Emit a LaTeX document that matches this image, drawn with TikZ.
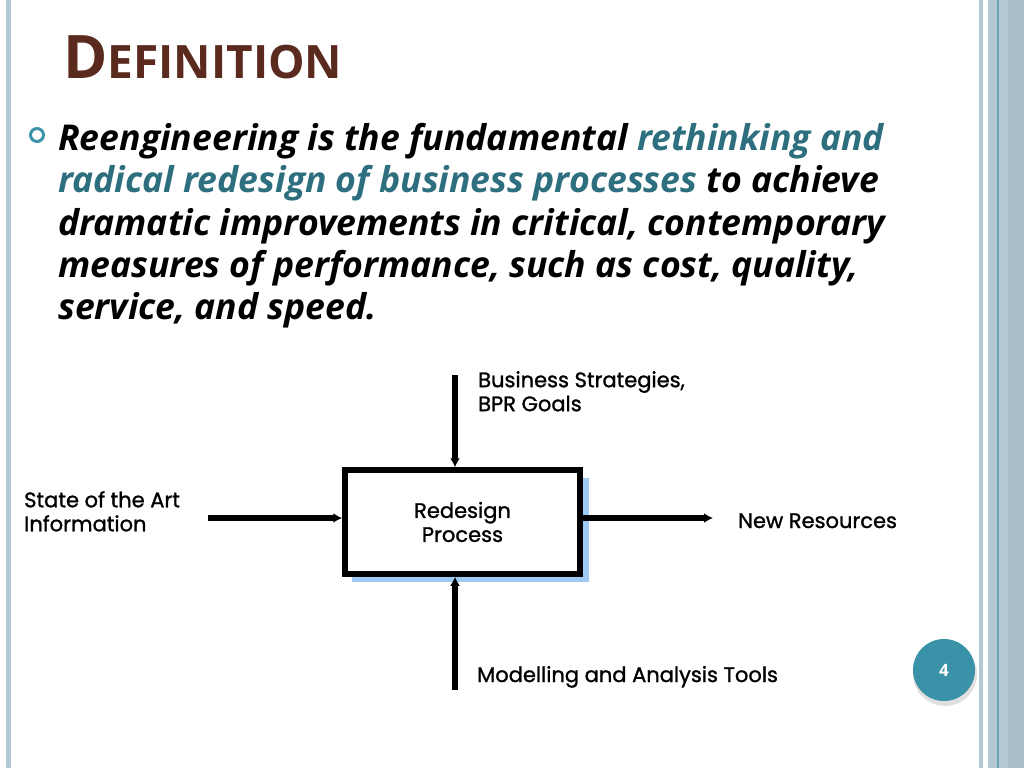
\documentclass[tikz,border=0pt]{standalone}
\usepackage{fontspec}
\setmainfont{Open Sans}
\newfontfamily\diagfont{Poppins}[FakeBold=1.2]
\usetikzlibrary{arrows.meta}
\definecolor{titlebrown}{HTML}{5B2A1E}
\definecolor{tealtext}{HTML}{2E6F7F}
\definecolor{bulletteal}{HTML}{3C93AA}
\definecolor{borderblue}{HTML}{B2C9D3}
\definecolor{borderdark}{HTML}{6AA3B3}
\definecolor{bordershade}{HTML}{A9C0CA}
\definecolor{shadowblue}{HTML}{9DCBF4}
\definecolor{pagecircle}{HTML}{3A92A8}
\begin{document}
\begin{tikzpicture}[x=1pt,y=-1pt,
  bodyline/.style={anchor=base west,inner sep=0pt,font=\fontsize{35.6}{42}\selectfont\bfseries\itshape},
  lbl/.style={inner sep=0pt,font=\diagfont\fontsize{21}{24}\selectfont,align=left},
  flow/.style={line width=5.5pt,-{Latex[length=9pt,width=10pt]}},
  procbox/.style={draw=black,fill=white,line width=5.5pt,minimum width=235pt,minimum height=104pt,inner sep=0pt,align=center,font=\diagfont\fontsize{21}{24}\selectfont},
]
\useasboundingbox (0,0) rectangle (1024,768);
\fill[white] (0,0) rectangle (1024,768);
% side borders
\fill[borderblue] (6,0) rectangle (11,768);
\fill[borderblue] (979,0) rectangle (983,768);
\fill[borderblue] (988,0) rectangle (1024,768);
\fill[bordershade] (1008,0) rectangle (1024,768);
\fill[borderdark] (997,0) rectangle (999,768);
% title
\node[anchor=base west,inner sep=0pt,text=titlebrown,font=\bfseries] (title) at (63,78)
  {\fontsize{60}{60}\selectfont D\fontsize{46}{46}\selectfont EFINITION};
% bullet
\node[circle,draw=bulletteal,line width=3pt,minimum size=13pt,inner sep=0pt] (bul) at (37,135) {};
% body text
\node[bodyline] (l1) at (58,150) {Reengineering is the fundamental \textcolor{tealtext}{rethinking and}};
\node[bodyline] (l2) at (58,192) {\textcolor{tealtext}{radical redesign of business processes} to achieve};
\node[bodyline] (l3) at (58,235) {dramatic improvements in critical, contemporary};
\node[bodyline] (l4) at (58,277) {measures of performance, such as cost, quality,};
\node[bodyline] (l5) at (58,319) {service, and speed.};
% diagram
\fill[shadowblue] (352,478) rectangle (589,582);
\node[procbox] (box) at (462.5,522) {Redesign\\Process};
\coordinate (topsrc) at (455,375);
\coordinate (botsrc) at (455,690);
\coordinate (leftsrc) at (208,518);
\coordinate (rightend) at (713,518);
\draw[flow] (topsrc) -- (topsrc |- box.north);
\draw[flow] (botsrc) -- (botsrc |- box.south);
\draw[flow] (leftsrc) -- (box.west |- leftsrc);
\draw[flow] (box.east |- rightend) -- (rightend);
\node[lbl,anchor=north west] (ltop) at (478,371) {Business Strategies,\\BPR Goals};
\node[lbl,anchor=north west] (lleft) at (24,491) {State of the Art\\Information};
\node[lbl,anchor=base west] (lright) at (738,528) {New Resources};
\node[lbl,anchor=base west] (lbot) at (477,682) {Modelling and Analysis Tools};
% page number
\fill[black,opacity=0.12] (945,674) circle (32);
\node[circle,fill=pagecircle,minimum size=62pt,inner sep=0pt,text=white,font=\bfseries\fontsize{17}{17}\selectfont] (page) at (944,670) {4};
\end{tikzpicture}
\end{document}
